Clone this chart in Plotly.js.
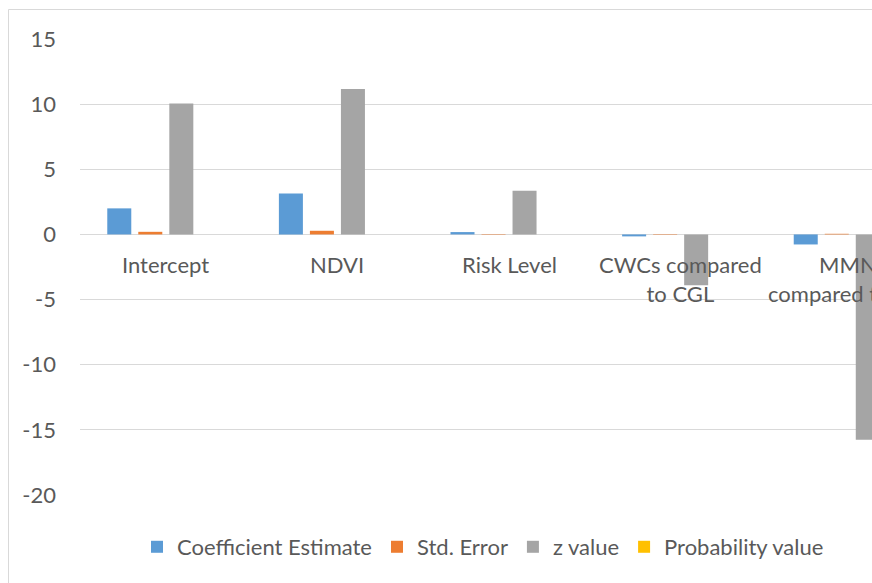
<!DOCTYPE html>
<html><head><meta charset="utf-8">
<script src="https://cdn.plot.ly/plotly-3.0.1.min.js"></script>
<style>html,body{margin:0;padding:0;overflow:hidden;background:#fff}</style>
</head><body><div id="chart" style="width:872px;height:583px"></div>
<script>
const categories = ["Intercept", "NDVI", "Risk Level", "CWCs compared to CGL", "MMNs compared to CGL"];
const categoryLabels = ["Intercept", "NDVI", "Risk Level", "CWCs compared<br>to CGL", "MMNs<br>compared to CGL"];
const seriesNames = ["Coefficient Estimate", "Std. Error", "z value", "Probability value"];
const coefEstimate = [2.0, 3.15, 0.18, -0.15, -0.77];
const stdError = [0.2, 0.28, 0.035, 0.035, 0.049];
const zValue = [10.05, 11.16, 3.35, -3.9, -15.75];
const probValue = [0.0, 0.0, 0.0008, 0.0001, 0.0];
const yTicks = [15, 10, 5, 0, -5, -10, -15, -20];

const colors = ["#5b9bd5", "#ed7d31", "#a5a5a5", "#ffc000"];
const seriesValues = [coefEstimate, stdError, zValue, probValue];
const FONT = "Lato, 'Open Sans', sans-serif";
const FS = 22;
const TXT = "#595959";

const traces = seriesValues.map((vals, i) => ({
  type: "bar",
  name: seriesNames[i],
  x: categories,
  y: vals,
  marker: {color: colors[i]},
  hoverinfo: "x+y+name"
}));

const annotations = categories.map((c, i) => ({
  x: c, y: 0, xref: "x", yref: "y",
  text: categoryLabels[i],
  showarrow: false,
  yanchor: "top",
  yshift: -15,
  font: {family: FONT, size: FS, color: TXT}
}));

const layout = {
  width: 872, height: 583,
  margin: {l: 80, r: 0, t: 39, b: 88},
  paper_bgcolor: "#fff", plot_bgcolor: "#fff",
  barmode: "group",
  bargap: 0.277,
  bargroupgap: 0.226,
  xaxis: {
    type: "category",
    range: [-0.5, 4.115],
    showticklabels: false,
    showgrid: false,
    zeroline: false,
    showline: false,
    ticks: ""
  },
  yaxis: {
    range: [-20, 15],
    tickvals: yTicks,
    ticktext: yTicks.map(String),
    gridcolor: "#d9d9d9",
    gridwidth: 1,
    zeroline: true,
    zerolinecolor: "#d9d9d9",
    zerolinewidth: 1,
    showline: false,
    ticks: "",
    ticklabelstandoff: 23,
    tickfont: {family: FONT, size: FS, color: TXT}
  },
  showlegend: true,
  legend: {
    orientation: "h",
    x: 0.072, xanchor: "left",
    y: -0.114, yanchor: "middle",
    traceorder: "normal",
    font: {family: FONT, size: FS, color: TXT},
    bgcolor: "rgba(0,0,0,0)"
  },
  annotations: annotations,
  shapes: [{
    type: "rect", xref: "paper", yref: "paper",
    x0: (8.5 - 80) / 792, x1: 1.2,
    y0: -0.3, y1: (495 - 9.5) / 456,
    line: {color: "#d9d9d9", width: 1},
    fillcolor: "rgba(0,0,0,0)",
    layer: "below"
  }]
};

Plotly.newPlot("chart", traces, layout, {displayModeBar: false, staticPlot: true});
</script>
</body></html>
